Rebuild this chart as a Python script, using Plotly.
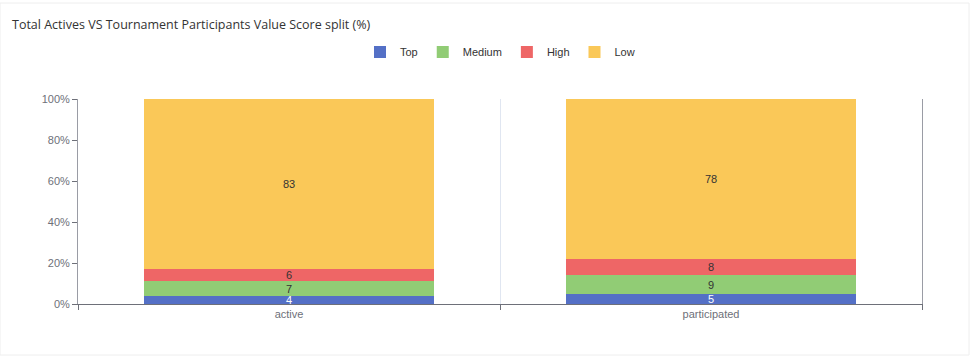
import plotly.graph_objects as go

categories = ["active", "participated"]
series_names = ["Top", "Medium", "High", "Low"]
top_vals = [4, 5]
medium_vals = [7, 9]
high_vals = [6, 8]
low_vals = [83, 78]
y_ticks = [0, 20, 40, 60, 80, 100]
y_tick_labels = ["0%", "20%", "40%", "60%", "80%", "100%"]

colors = ["#5470c6", "#91cc75", "#ee6666", "#fac858"]
label_colors = ["#ffffff", "#333333", "#333333", "#333333"]
all_vals = [top_vals, medium_vals, high_vals, low_vals]

fig = go.Figure()
for name, vals, c, lc in zip(series_names, all_vals, colors, label_colors):
    fig.add_trace(go.Bar(
        x=categories, y=vals, name=name,
        marker=dict(color=c, line=dict(width=0)),
        text=[str(v) for v in vals], textposition="inside",
        insidetextanchor="middle",
        insidetextfont=dict(color=lc, size=11, family="Liberation Sans, Arial, sans-serif"),
        textangle=0, constraintext="none",
    ))

fig.update_layout(
    barmode="stack",
    bargap=0.313,
    width=971, height=357,
    margin=dict(l=78, r=49, t=99, b=53),
    paper_bgcolor="#ffffff",
    plot_bgcolor="#ffffff",
    font=dict(family="Liberation Sans, Arial, sans-serif", color="#6e7079", size=11),
    title=dict(text="Total Actives VS Tournament Participants Value Score split (%)",
               x=12 / 971, xanchor="left", y=1 - 25 / 357, yanchor="middle",
               font=dict(family="Open Sans, Noto Sans, sans-serif", size=12.5, color="#333333")),
    legend=dict(orientation="h", x=0.5, xanchor="center", y=1 + 47 / 205, yanchor="middle",
                font=dict(size=11, color="#333333"), traceorder="normal",
                itemwidth=30, itemsizing="constant"),
    showlegend=True,
    xaxis=dict(
        type="category", tickson="boundaries", ticks="outside", ticklen=5,
        tickcolor="#6e7079", showline=True, linecolor="#6e7079", linewidth=1,
        showgrid=True, gridcolor="#e0e6f1", gridwidth=1,
        tickfont=dict(size=11, color="#6e7079"),
    ),
    yaxis=dict(
        range=[0, 100], tickvals=y_ticks, ticktext=y_tick_labels,
        ticks="outside", ticklen=5, tickcolor="#6e7079",
        showline=True, linecolor="#9a9ca5", linewidth=1, mirror=True,
        showgrid=False, zeroline=False,
        tickfont=dict(size=11, color="#6e7079"),
    ),
    shapes=[dict(type="rect", xref="paper", yref="paper",
                 x0=-78 / 844, x1=1 + 47 / 844, y0=-51 / 205, y1=1 + 96 / 205,
                 line=dict(color="#eeeeee", width=1), fillcolor="rgba(0,0,0,0)",
                 layer="below")],
)

fig.write_html("out.html", config={"displayModeBar": False},
               post_script="document.body.style.margin='0';")
